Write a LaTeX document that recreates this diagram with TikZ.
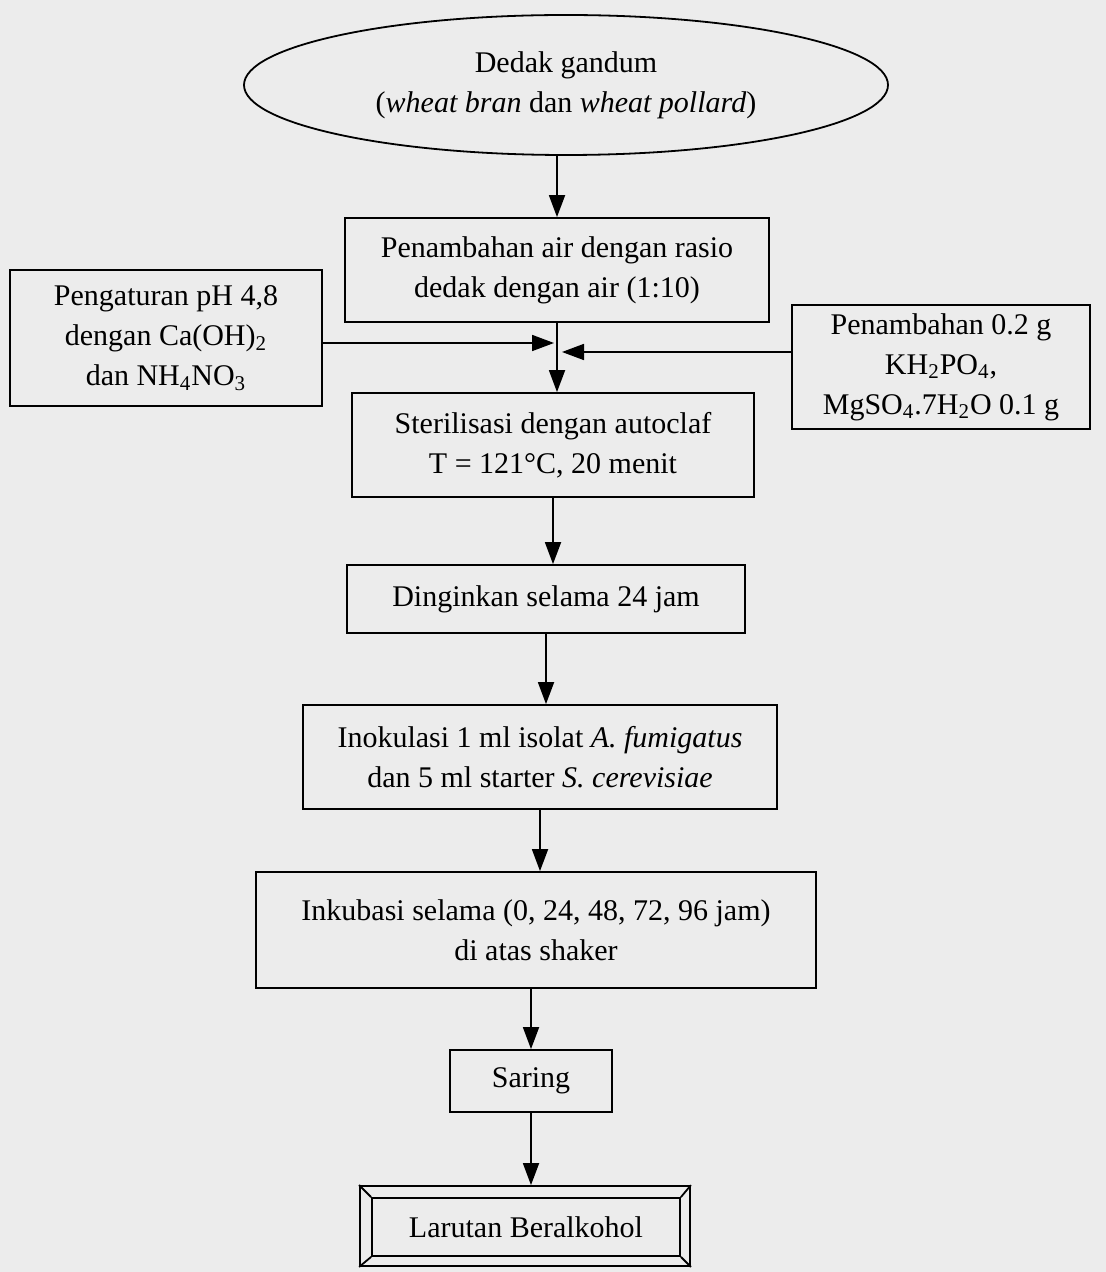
\documentclass[tikz,border=0pt]{standalone}
\usepackage{fontspec}
\setmainfont{Liberation Serif}
\usetikzlibrary{arrows.meta,shapes.geometric}
\definecolor{scanpaper}{HTML}{ECECEC}
\tikzset{
  procbox/.style={draw, line width=0.9pt, align=center, inner sep=2pt},
  flowarrow/.style={-{Triangle[width=8pt,length=11pt]}, line width=0.9pt},
}
\begin{document}
\begin{tikzpicture}[x=0.5pt,y=-0.5pt,font=\fontsize{15}{20}\selectfont]
\fill[scanpaper] (0,0) rectangle (1106,1272);
\useasboundingbox (0,0) rectangle (1106,1272);
% bahan awal
\node[procbox,ellipse,inner sep=0pt,minimum width=322pt,minimum height=70pt] (bran) at (566,85)
  {Dedak gandum\\(\textit{wheat bran} dan \textit{wheat pollard})};
% tahap proses
\node[procbox,minimum width=212pt,minimum height=52pt] (air) at (557,270)
  {Penambahan air dengan rasio\\dedak dengan air (1:10)};
\node[procbox,minimum width=156pt,minimum height=68pt] (ph) at (166,338)
  {Pengaturan pH 4,8\\dengan Ca(OH)\textsubscript{2}\\dan NH\textsubscript{4}NO\textsubscript{3}};
\node[procbox,minimum width=149pt,minimum height=62pt] (mineral) at (941,367)
  {Penambahan 0.2 g\\KH\textsubscript{2}PO\textsubscript{4},\\MgSO\textsubscript{4}.7H\textsubscript{2}O 0.1 g};
\node[procbox,minimum width=201pt,minimum height=52pt] (steril) at (553,445)
  {Sterilisasi dengan autoclaf\\T = 121°C, 20 menit};
\node[procbox,minimum width=199pt,minimum height=34pt] (dingin) at (546,599)
  {Dinginkan selama 24 jam};
\node[procbox,minimum width=237pt,minimum height=52pt] (inok) at (540,757)
  {Inokulasi 1 ml isolat \textit{A. fumigatus}\\dan 5 ml starter \textit{S. cerevisiae}};
\node[procbox,minimum width=280pt,minimum height=58pt] (inkub) at (536,930)
  {Inkubasi selama (0, 24, 48, 72, 96 jam)\\di atas shaker};
\node[procbox,minimum width=81pt,minimum height=31pt] (saring) at (531,1081) {Saring};
% hasil akhir (bingkai bevel)
\node[procbox,minimum width=165pt,minimum height=40pt] (hasil) at (525,1226) {};
\node[procbox,minimum width=154pt,minimum height=29pt] (hasilin) at (526,1227) {Larutan Beralkohol};
\foreach \c in {north west,north east,south west,south east}
  \draw[line width=0.9pt] (hasil.\c) -- (hasilin.\c);
% panah
\coordinate (temuL) at (554,343);
\coordinate (temuR) at (562,352);
\draw[flowarrow] (bran.south -| air.north) -- (air.north);
\draw[flowarrow] (air.south) -- (air.south |- steril.north);
\draw[flowarrow] (ph.east |- temuL) -- (temuL);
\draw[flowarrow] (mineral.west |- temuR) -- (temuR);
\draw[flowarrow] (steril.south) -- (steril.south |- dingin.north);
\draw[flowarrow] (dingin.south) -- (dingin.south |- inok.north);
\draw[flowarrow] (inok.south) -- (inok.south |- inkub.north);
\draw[flowarrow] (inkub.south -| saring.north) -- (saring.north);
\draw[flowarrow] (saring.south) -- (saring.south |- hasil.north);
\end{tikzpicture}
\end{document}
